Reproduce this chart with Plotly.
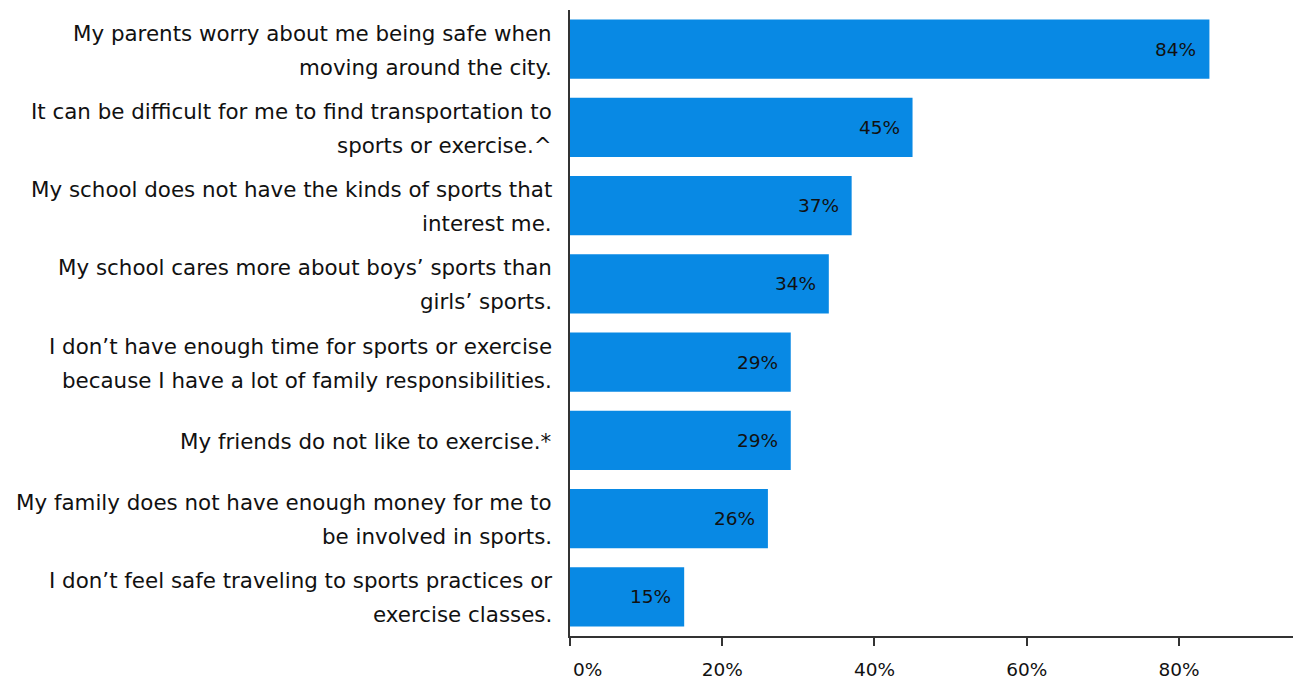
import plotly.graph_objects as go

categories = [
    "My parents worry about me being safe when<br>moving around the city.",
    "It can be difficult for me to find transportation to<br>sports or exercise.^",
    "My school does not have the kinds of sports that<br>interest me.",
    "My school cares more about boys’ sports than<br>girls’ sports.",
    "I don’t have enough time for sports or exercise<br>because I have a lot of family responsibilities.",
    "My friends do not like to exercise.*",
    "My family does not have enough money for me to<br>be involved in sports.",
    "I don’t feel safe traveling to sports practices or<br>exercise classes.",
]
values = [0.84, 0.45, 0.37, 0.34, 0.29, 0.29, 0.26, 0.15]
tick_vals = [0, 0.2, 0.4, 0.6, 0.8]
tick_text = ["\u00a0" * 6 + "0%", "20%", "40%", "60%", "80%"]

FONT = "DejaVu Sans"
BAR = "#0889E4"

fig = go.Figure()
fig.add_trace(go.Bar(
    x=values, y=categories, orientation="h",
    marker=dict(color=BAR, line=dict(width=0)),
    hoverinfo="skip",
))

annotations = []
for cat, v in zip(categories, values):
    lines = cat.split("<br>")
    n = len(lines)
    for i, ln in enumerate(lines):
        shift = (n - 1) / 2 * 34 - i * 34 - 1
        annotations.append(dict(
            x=0, xref="paper", y=cat, yref="y", text=ln, showarrow=False,
            xanchor="right", yanchor="middle", xshift=-16, yshift=shift,
            font=dict(family=FONT, size=21.4, color="#111111"),
        ))
    annotations.append(dict(
        x=v, xref="x", y=cat, yref="y", text=f"{round(v*100)}%", showarrow=False,
        xanchor="right", yanchor="middle", xshift=-11,
        font=dict(family=FONT, size=18.5, color="#111111"),
    ))

fig.update_layout(
    width=1293, height=673,
    margin=dict(l=562, r=1, t=2, b=45),
    plot_bgcolor="white", paper_bgcolor="white",
    bargap=0.245,
    showlegend=False,
    annotations=annotations,
    xaxis=dict(
        range=[0, 0.959], tickvals=tick_vals, ticktext=tick_text,
        showgrid=False, zeroline=False, automargin=False,
        showline=True, linecolor="#333333", linewidth=2,
        ticks="outside", ticklen=8, tickcolor="#333333", tickwidth=1.5,
        ticklabelstandoff=8,
        tickfont=dict(family=FONT, size=18.5, color="#111111"),
    ),
    yaxis=dict(
        autorange="reversed", showticklabels=False, showgrid=False,
        zeroline=False, showline=True, linecolor="#333333", linewidth=2,
        ticks="", automargin=False,
    ),
)

fig.write_html("out.html")
